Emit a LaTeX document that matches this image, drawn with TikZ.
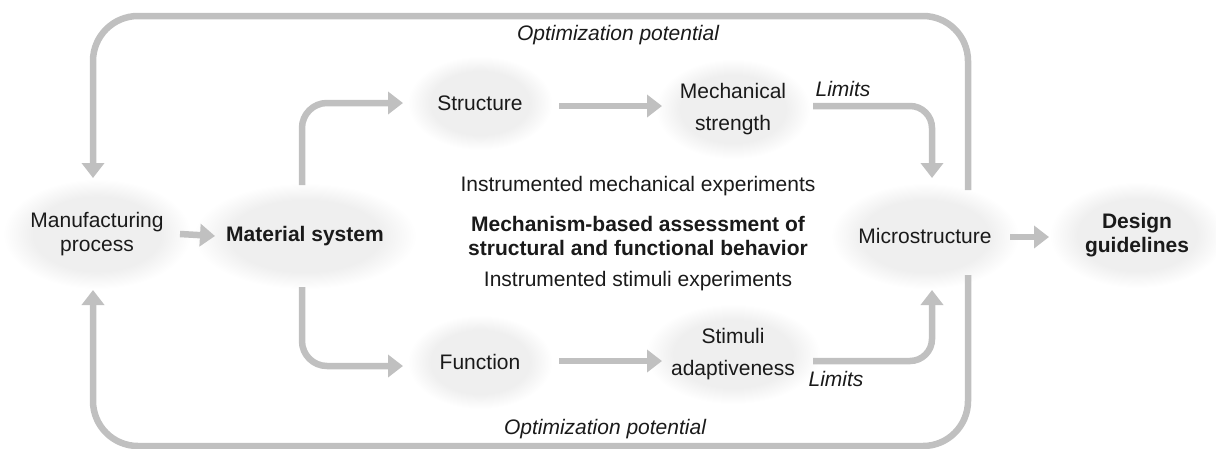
\documentclass[tikz,border=0pt]{standalone}
\usepackage{fontspec}
\setmainfont{Liberation Sans}
\usetikzlibrary{arrows.meta,calc,shapes.geometric}
\definecolor{arrgray}{HTML}{C0C0C0}
\definecolor{glowgray}{HTML}{EFEFEF}
\definecolor{txt}{HTML}{1A1A1A}
\pgfdeclareradialshading{glow}{\pgfpoint{0bp}{0bp}}{color(0bp)=(glowgray); color(17bp)=(glowgray); color(25bp)=(white); color(50bp)=(white)}
\tikzset{
  blob/.style={ellipse, shading=glow, draw=none, inner sep=0pt, text=txt, align=center},
  wide/.style={font=\fontsize{21}{32}\selectfont},
  tight/.style={font=\fontsize{21}{23.5}\selectfont},
  lbl/.style={text=txt, inner sep=0pt, align=center, font=\fontsize{21}{24.5}\selectfont},
  arr/.style={draw=arrgray, line width=6.5pt, -{Triangle[length=15pt,width=22pt]}},
}
\begin{document}
\begin{tikzpicture}[x=1pt,y=-1pt]
\useasboundingbox (0,0) rectangle (1216,448);
% nodes
\node[blob, tight, minimum width=165pt, minimum height=110pt] (mfg) at (97,234) {Manufacturing\\process};
\node[blob, tight, minimum width=160pt, minimum height=106pt, font=\fontsize{21}{23.5}\selectfont\bfseries] (mat) at (305,236) {Material system};
\node[blob, wide, minimum width=145pt, minimum height=94pt] (str) at (480,103) {Structure};
\node[blob, wide, minimum width=155pt, minimum height=100pt] (mech) at (733,109) {Mechanical\\strength};
\node[blob, wide, minimum width=145pt, minimum height=94pt] (fun) at (480,362) {Function};
\node[blob, wide, minimum width=160pt, minimum height=100pt] (stim) at (733,354) {Stimuli\\adaptiveness};
\node[blob, tight, minimum width=175pt, minimum height=106pt] (micro) at (925,236) {Microstructure};
\node[blob, tight, minimum width=175pt, minimum height=106pt, font=\fontsize{21}{23.5}\selectfont\bfseries] (design) at (1137,235) {Design\\guidelines};
% texts
\node[lbl] (inst1) at (638,186) {Instrumented mechanical experiments};
\node[lbl, font=\fontsize{21}{24.5}\selectfont\bfseries] (assess) at (638,236) {Mechanism-based assessment of\\structural and functional behavior};
\node[lbl] (inst2) at (638,281) {Instrumented stimuli experiments};
\node[lbl, font=\fontsize{21}{24}\selectfont\itshape] (lim1) at (843,89) {Limits};
\node[lbl, font=\fontsize{21}{24}\selectfont\itshape] (lim2) at (836,379) {Limits};
\node[lbl, font=\fontsize{21}{24}\selectfont\itshape] (opt1) at (618,35) {Optimization potential};
\node[lbl, font=\fontsize{21}{24}\selectfont\itshape] (opt2) at (605,429) {Optimization potential};
% connectors
\draw[arr] ($(mfg)+(83,0)$) -- ($(mat)+(-90,0)$);
\draw[arr, rounded corners=25pt] ($(mat)+(-3,-51)$) |- ($(str)+(-77,0)$);
\draw[arr, rounded corners=25pt] ($(mat)+(-3,51)$) |- ($(fun)+(-77,4)$);
\draw[arr] ($(str)+(79,3)$) -- ($(mech)+(-71,-3)$);
\draw[arr] ($(fun)+(79,-1)$) -- ($(stim)+(-71,7)$);
\draw[arr, rounded corners=22pt] ($(mech)+(80,-3)$) -| ($(micro)+(7,-58)$);
\draw[arr, rounded corners=22pt] ($(stim)+(80,7)$) -| ($(micro)+(7,54)$);
\draw[arr] ($(micro)+(85,1)$) -- ($(design)+(-88,2)$);
\draw[arr, rounded corners=45pt] ($(micro)+(43,-46)$) -- ++(0,-174) -| ($(mfg)+(-4,-56)$);
\draw[arr, rounded corners=45pt] ($(micro)+(43,39)$) -- ++(0,171) -| ($(mfg)+(-4,56)$);
\end{tikzpicture}
\end{document}
